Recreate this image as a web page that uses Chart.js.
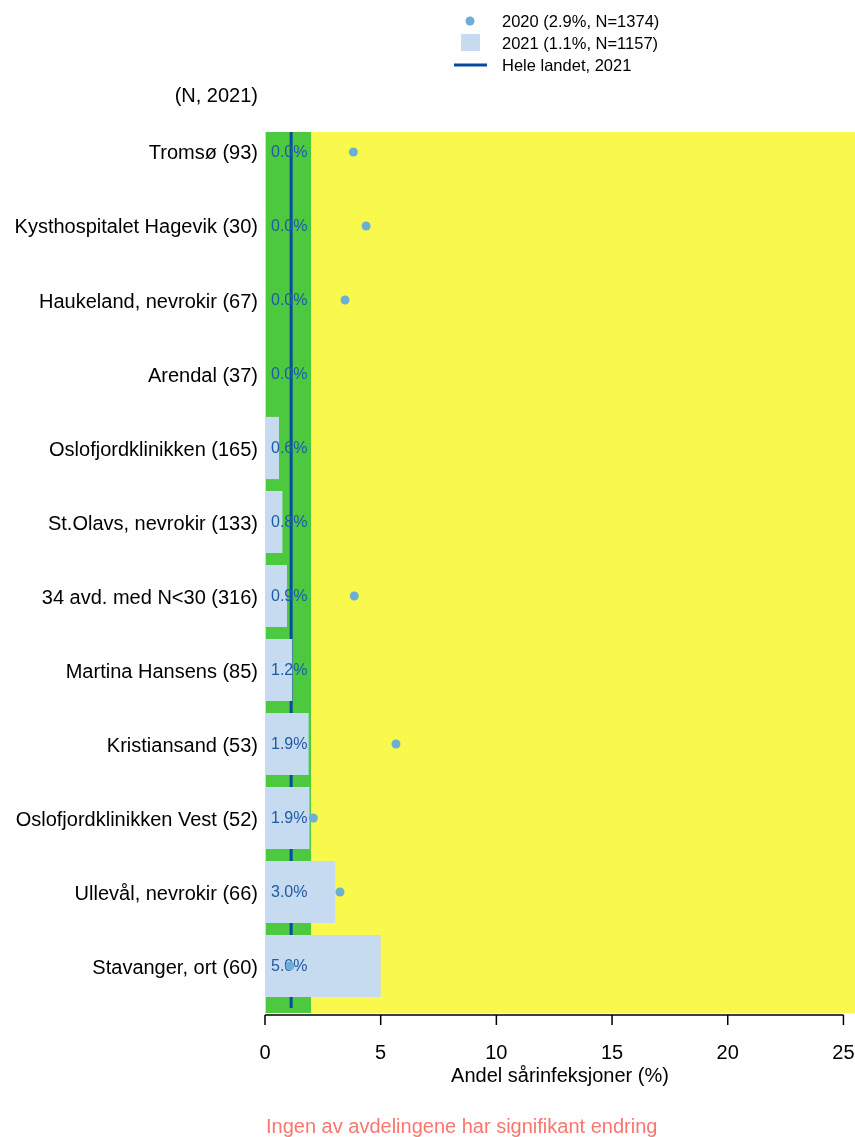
<!DOCTYPE html>
<html>
<head>
<meta charset="utf-8">
<script src="https://cdn.jsdelivr.net/npm/chart.js@4"></script>
<style>
  body { margin: 0; background: #fff; font-family: "Liberation Sans", Arial, sans-serif; overflow: hidden; }
  #wrap { position: relative; width: 855px; height: 1137px; }
  #chart { position: absolute; left: 0; top: 0; }
  .txt { position: absolute; white-space: nowrap; color: #000; }
  .leg { font-size: 16.5px; line-height: 20px; left: 502px; }
</style>
</head>
<body>
<div id="wrap">
  <canvas id="chart" width="855" height="1137"></canvas>
  <div class="txt leg" style="top:11px">2020 (2.9%, N=1374)</div>
  <div class="txt leg" style="top:33px">2021 (1.1%, N=1157)</div>
  <div class="txt leg" style="top:55px">Hele landet, 2021</div>
  <div class="txt" style="font-size:20px; line-height:24px; top:83px; right:597px">(N, 2021)</div>
  <div class="txt" style="font-size:20px; line-height:24px; top:1063px; left:265px; width:590px; text-align:center">Andel sårinfeksjoner (%)</div>
  <div class="txt" style="font-size:20px; line-height:24px; top:1114px; left:266px; color:#f8766d">Ingen av avdelingene har signifikant endring</div>
</div>
<script>
const categories = ['Tromsø (93)', 'Kysthospitalet Hagevik (30)', 'Haukeland, nevrokir (67)', 'Arendal (37)',
    'Oslofjordklinikken (165)', 'St.Olavs, nevrokir (133)', '34 avd. med N<30 (316)', 'Martina Hansens (85)',
    'Kristiansand (53)', 'Oslofjordklinikken Vest (52)', 'Ullevål, nevrokir (66)', 'Stavanger, ort (60)'];
const andel2021 = [0, 0, 0, 0, 0.606, 0.752, 0.949, 1.176, 1.887, 1.923, 3.030, 5.0];
const andel2020 = [3.82, 4.37, 3.46, null, null, null, 3.86, null, 5.66, 2.09, 3.24, 1.08];
const heleLandet2021 = 1.13;
const xTicks = [0, 5, 10, 15, 20, 25];
const gronnGrense = 2;

const colGreen = '#4dc940';
const colYellow = '#f9f84c';
const colBar = '#c6dbef';
const colDot = '#6baed6';
const colLine = '#0a4a9c';
const colLabel = '#1f5aa6';

// legend marks drawn on canvas, text is html
const legendPlugin = {
    id: 'legendMarks',
    afterDraw(chart) {
        const ctx = chart.ctx;
        ctx.save();
        ctx.fillStyle = colDot;
        ctx.beginPath();
        ctx.arc(470, 21, 4.5, 0, Math.PI * 2);
        ctx.fill();
        ctx.fillStyle = colBar;
        ctx.fillRect(461, 34, 19, 17);
        ctx.strokeStyle = colLine;
        ctx.lineWidth = 3;
        ctx.beginPath();
        ctx.moveTo(454, 65);
        ctx.lineTo(487, 65);
        ctx.stroke();
        ctx.restore();
    }
};

const bgPlugin = {
    id: 'bakgrunn',
    beforeDatasetsDraw(chart) {
        const ctx = chart.ctx;
        const a = chart.chartArea;
        const x = chart.scales.x;
        const g = x.getPixelForValue(gronnGrense);
        ctx.save();
        ctx.fillStyle = colGreen;
        ctx.fillRect(a.left, a.top, g - a.left, a.bottom - a.top);
        ctx.fillStyle = colYellow;
        ctx.fillRect(g, a.top, a.right - g, a.bottom - a.top);
        // faint edge left by the zero-width bars
        ctx.strokeStyle = colBar;
        ctx.lineWidth = 1;
        ctx.beginPath();
        ctx.moveTo(a.left + 0.5, a.top);
        ctx.lineTo(a.left + 0.5, a.bottom);
        ctx.stroke();
        const lx = x.getPixelForValue(heleLandet2021);
        ctx.strokeStyle = colLine;
        ctx.lineWidth = 3;
        ctx.beginPath();
        ctx.moveTo(lx, a.top);
        ctx.lineTo(lx, a.bottom - 5);
        ctx.stroke();
        ctx.restore();
    },
    afterDatasetDraw(chart, args) {
        if (args.index !== 0) return;
        const ctx = chart.ctx;
        const x = chart.scales.x, y = chart.scales.y;
        ctx.save();
        ctx.font = '16px "Liberation Sans", Arial, sans-serif';
        ctx.fillStyle = colLabel;
        ctx.textBaseline = 'middle';
        ctx.textAlign = 'left';
        andel2021.forEach((v, i) => {
            ctx.fillText(v.toFixed(1) + '%', x.getPixelForValue(0) + 6, y.getPixelForValue(i) + 1);
        });
        ctx.restore();
    },
    afterDraw(chart) {
        const ctx = chart.ctx;
        const x = chart.scales.x;
        const yy = chart.chartArea.bottom + 2;
        ctx.save();
        ctx.strokeStyle = '#000';
        ctx.lineWidth = 1.5;
        ctx.beginPath();
        ctx.moveTo(x.getPixelForValue(xTicks[0]), yy);
        ctx.lineTo(x.getPixelForValue(xTicks[xTicks.length - 1]), yy);
        xTicks.forEach(t => {
            const px = x.getPixelForValue(t);
            ctx.moveTo(px, yy);
            ctx.lineTo(px, yy + 10);
        });
        ctx.stroke();
        ctx.restore();
    }
};

new Chart(document.getElementById('chart'), {
    type: 'bar',
    data: {
        labels: categories,
        datasets: [{
            label: '2021',
            data: andel2021,
            backgroundColor: colBar,
            borderWidth: 0,
            barPercentage: 0.84,
            categoryPercentage: 1,
            order: 2
        }, {
            type: 'line',
            label: '2020',
            indexAxis: 'y',
            data: andel2020,
            showLine: false,
            pointRadius: 4.5,
            pointBackgroundColor: colDot,
            pointBorderWidth: 0,
            order: 1
        }]
    },
    options: {
        indexAxis: 'y',
        responsive: false,
        animation: false,
        events: [],
        layout: { autoPadding: false, padding: { top: 132, right: 0, bottom: 0, left: 0 } },
        plugins: { legend: { display: false }, tooltip: { enabled: false } },
        scales: {
            x: {
                min: 0,
                max: 25.5,
                grid: { display: false, drawTicks: false },
                border: { display: false },
                afterBuildTicks: (scale) => { scale.ticks = xTicks.map(v => ({ value: v })); },
                afterFit: (scale) => { scale.height = 124; scale.paddingRight = 0; scale.paddingLeft = 0; },
                ticks: {
                    padding: 28,
                    color: '#000',
                    maxRotation: 0,
                    font: { size: 20, family: '"Liberation Sans", Arial, sans-serif' }
                }
            },
            y: {
                grid: { display: false, drawTicks: false },
                border: { display: false },
                afterBuildTicks: (scale) => {
                    // rows sit a bit off-centre in the plotted band, as in the original
                    scale._startValue = -0.27;
                    scale._valueRange = 11.905;
                },
                afterFit: (scale) => { scale.width = 265; },
                ticks: {
                    padding: 7,
                    labelOffset: 2,
                    autoSkip: false,
                    color: '#000',
                    font: { size: 20, family: '"Liberation Sans", Arial, sans-serif' }
                }
            }
        }
    },
    plugins: [bgPlugin, legendPlugin]
});
</script>
</body>
</html>
